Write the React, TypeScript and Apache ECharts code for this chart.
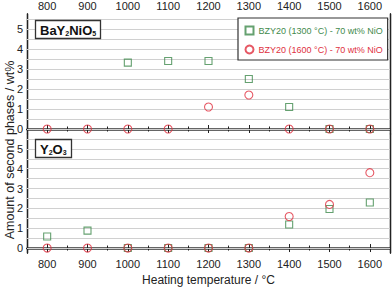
import React, { useEffect, useRef } from "react";
import * as echarts from "echarts";

const temps = [800, 900, 1000, 1100, 1200, 1300, 1400, 1500, 1600];
const minorTemps = [850, 950, 1050, 1150, 1250, 1350, 1450, 1550];
const yMajor = [0, 1, 2, 3, 4, 5];
const yMinor = [0.5, 1.5, 2.5, 3.5, 4.5, 5.5];
const gridValues = [0, 0.5, 1, 1.5, 2, 2.5, 3, 3.5, 4, 4.5, 5, 5.5];

const seriesA = "BZY20 (1300 °C) - 70 wt% NiO";
const seriesB = "BZY20 (1600 °C) - 70 wt% NiO";

// Top panel: BaY2NiO5
const bayGreenT = [1000, 1100, 1200, 1300, 1400, 1500, 1600];
const bayGreen = [3.32, 3.4, 3.4, 2.5, 1.1, 0, 0];
const bayRed = [0, 0, 0, 0, 1.1, 1.7, 0, 0, 0];

// Bottom panel: Y2O3
const yoGreen = [0.58, 0.88, 0, 0, 0, 0, 1.19, 1.97, 2.3];
const yoRed = [0, 0, 0, 0, 0, 0, 1.59, 2.2, 3.8];

const GREEN = "#3f8a4c";
const RED = "#e0303e";
const FONT = "Arial";

export default function App() {
  const ref = useRef<HTMLDivElement>(null);
  useEffect(() => {
    if (!ref.current) return;
    const chart = echarts.init(ref.current, undefined, { renderer: "svg" });

    const grids = [
      { left: 27, right: 2, top: 13, height: 121 },
      { left: 27, right: 2, top: 134, height: 121 },
    ];

    const axisLine = { show: true, lineStyle: { color: "#222", width: 1.3 } };

    const xAxes: any[] = [];
    const mkX = (gridIndex: number, position: string, values: number[], len: number, labels: boolean, name?: string) => {
      xAxes.push({
        type: "value",
        gridIndex,
        position,
        min: 750,
        max: 1650,
        axisLine,
        splitLine: { show: false },
        axisTick: { show: true, inside: true, length: len, customValues: values, lineStyle: { color: "#222", width: 1 } },
        axisLabel: labels
          ? {
              show: true,
              customValues: values,
              formatter: (v: number) => String(v),
              fontSize: 11,
              color: "#222",
              fontFamily: FONT,
              margin: position === "top" ? 3 : 5,
            }
          : { show: false },
        name,
        nameLocation: "middle",
        nameGap: 21,
        nameTextStyle: { fontSize: 12, color: "#222", fontFamily: FONT },
      });
    };
    // grid 0
    mkX(0, "top", temps, 4, true); // 0
    mkX(0, "top", minorTemps, 2.5, false); // 1
    mkX(0, "bottom", temps, 4, false); // 2
    mkX(0, "bottom", minorTemps, 2.5, false); // 3
    // grid 1
    mkX(1, "bottom", temps, 4, true, "Heating temperature / °C"); // 4
    mkX(1, "bottom", minorTemps, 2.5, false); // 5
    mkX(1, "top", temps, 4, false); // 6
    mkX(1, "top", minorTemps, 2.5, false); // 7

    const yAxes: any[] = [];
    const mkY = (gridIndex: number, position: string, values: number[], len: number, labels: boolean) => {
      yAxes.push({
        type: "value",
        gridIndex,
        position,
        min: -0.25,
        max: 5.75,
        axisLine,
        splitLine: { show: false },
        axisTick: { show: true, inside: true, length: len, customValues: values, lineStyle: { color: "#222", width: 1 } },
        axisLabel: labels
          ? {
              show: true,
              customValues: values,
              formatter: (v: number) => String(v),
              fontSize: 11,
              color: "#222",
              fontFamily: FONT,
              margin: 4,
            }
          : { show: false },
      });
    };
    mkY(0, "left", yMajor, 4, true); // 0
    mkY(0, "left", yMinor, 2.5, false); // 1
    mkY(0, "right", yMajor, 4, false); // 2
    mkY(0, "right", yMinor, 2.5, false); // 3
    mkY(1, "left", yMajor, 4, true); // 4
    mkY(1, "left", yMinor, 2.5, false); // 5
    mkY(1, "right", yMajor, 4, false); // 6
    mkY(1, "right", yMinor, 2.5, false); // 7

    const gridLines = (xi: number, yi: number) => ({
      type: "line",
      xAxisIndex: xi,
      yAxisIndex: yi,
      data: [],
      silent: true,
      z: 1,
      markLine: {
        silent: true,
        symbol: "none",
        z: 1,
        label: { show: false },
        lineStyle: { color: "#d0d0d0", width: 1, type: "solid" },
        data: gridValues.map((v) => ({ yAxis: v })),
      },
    });

    const sq = (xi: number, yi: number, data: number[][]) => ({
      name: seriesA,
      type: "scatter",
      xAxisIndex: xi,
      yAxisIndex: yi,
      symbol: "rect",
      symbolSize: 7,
      itemStyle: { color: "none", borderColor: GREEN, borderWidth: 1.1 },
      data,
      z: 3,
    });
    const ci = (xi: number, yi: number, data: number[][]) => ({
      name: seriesB,
      type: "scatter",
      xAxisIndex: xi,
      yAxisIndex: yi,
      symbol: "circle",
      symbolSize: 8,
      itemStyle: { color: "none", borderColor: RED, borderWidth: 1.1 },
      data,
      z: 4,
    });

    const labelBox = (left: number, top: number, text: string) => ({
      left,
      top,
      text,
      z: 20,
      padding: [3, 5, 2, 5],
      borderColor: "#333",
      borderWidth: 1.3,
      backgroundColor: "#fff",
      textStyle: {
        fontFamily: FONT,
        rich: {
          a: { fontSize: 13, fontWeight: "bold", color: "#111", fontFamily: FONT, lineHeight: 16 },
          s: { fontSize: 7, fontWeight: "bold", color: "#111", fontFamily: FONT, lineHeight: 16, padding: [6, 0, 0, 0] },
        },
      },
    });

    chart.setOption({
      animation: false,
      backgroundColor: "#fff",
      grid: grids,
      xAxis: xAxes,
      yAxis: yAxes,
      title: [
        labelBox(35, 19, "{a|BaY}{s|2}{a|NiO}{s|5}"),
        labelBox(35, 138, "{a|Y}{s|2}{a|O}{s|3}"),
      ],
      legend: {
        left: 238,
        top: 18,
        z: 20,
        orient: "vertical",
        itemWidth: 8,
        itemHeight: 8,
        itemGap: 6,
        padding: [6, 5, 4, 5],
        borderColor: "#333",
        borderWidth: 1.2,
        backgroundColor: "#fff",
        data: [
          { name: seriesA, textStyle: { color: GREEN } },
          { name: seriesB, textStyle: { color: RED } },
        ],
        textStyle: { fontSize: 9, fontFamily: FONT },
      },
      graphic: [
        {
          type: "text",
          x: 10,
          y: 150,
          rotation: Math.PI / 2,
          style: {
            text: "Amount of second phases / wt%",
            fontSize: 12.5,
            fontFamily: FONT,
            fill: "#222",
            align: "center",
            verticalAlign: "middle",
          },
        },
      ],
      series: [
        gridLines(0, 0),
        gridLines(4, 4),
        sq(0, 0, bayGreenT.map((t, i) => [t, bayGreen[i]])),
        ci(0, 0, temps.map((t, i) => [t, bayRed[i]])),
        sq(4, 4, temps.map((t, i) => [t, yoGreen[i]])),
        ci(4, 4, temps.map((t, i) => [t, yoRed[i]])),
      ],
    });
    return () => chart.dispose();
  }, []);
  return <div ref={ref} style={{ width: 392, height: 287, position: "absolute", left: 0, top: 0 }} />;
}
